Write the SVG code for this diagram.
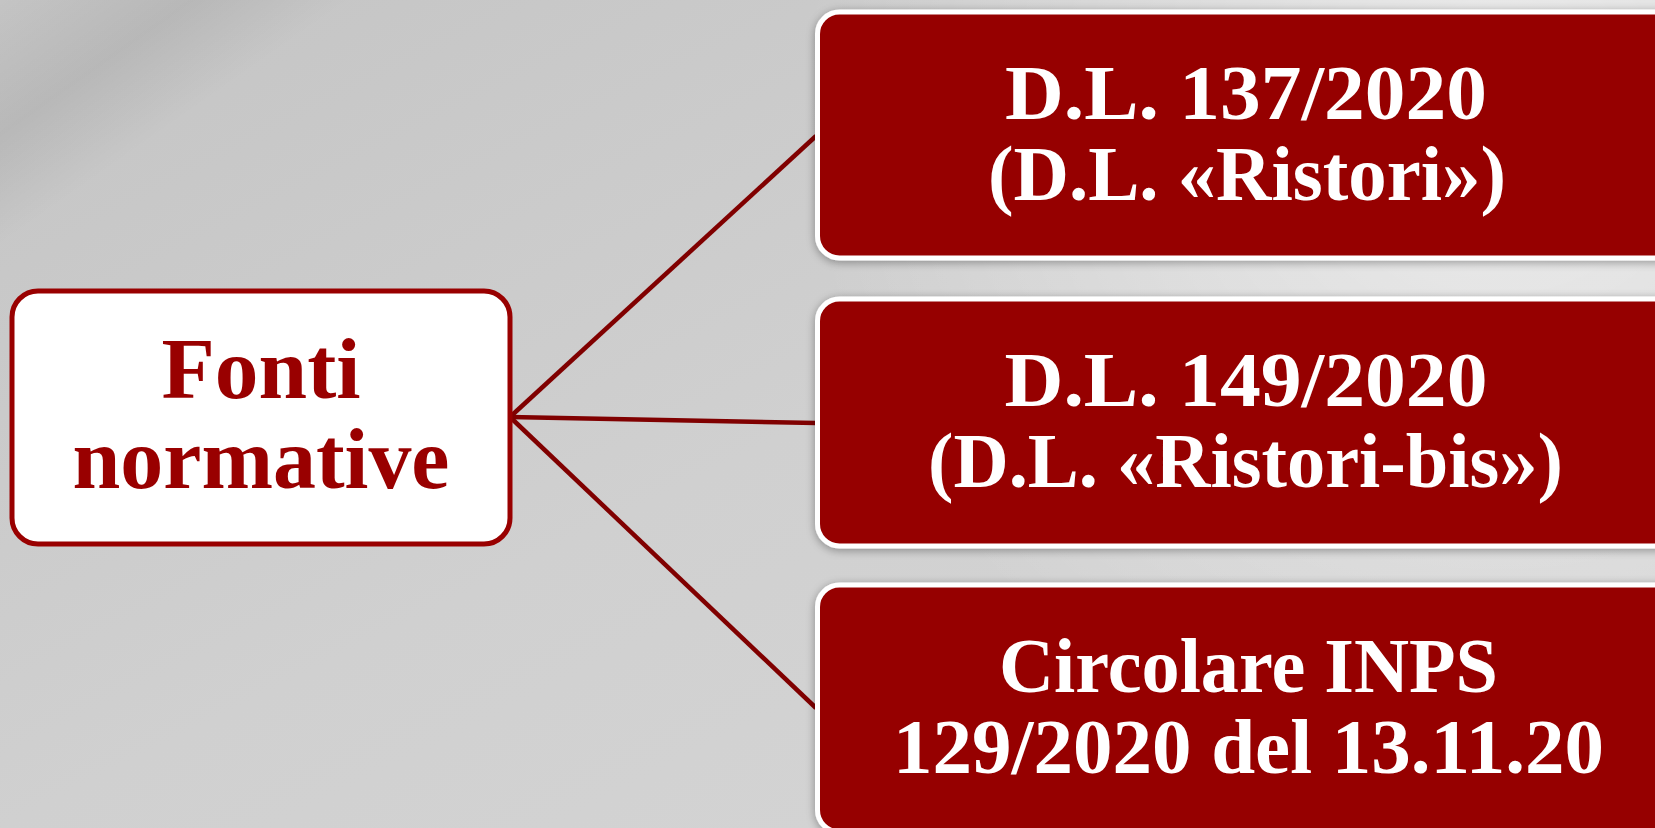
<svg xmlns="http://www.w3.org/2000/svg" width="1655" height="828" viewBox="0 0 1655 828">
  <defs>
    <linearGradient id="bg" x1="0" y1="0" x2="1" y2="1">
      <stop offset="0" stop-color="#c4c4c4"/>
      <stop offset="0.5" stop-color="#d0d0d0"/>
      <stop offset="1" stop-color="#d6d6d6"/>
    </linearGradient>
    <radialGradient id="glowTR" cx="1500" cy="100" r="700" gradientUnits="userSpaceOnUse">
      <stop offset="0" stop-color="#ffffff" stop-opacity="0.6"/>
      <stop offset="1" stop-color="#ffffff" stop-opacity="0"/>
    </radialGradient>
    <linearGradient id="band" x1="0" y1="0" x2="1" y2="1">
      <stop offset="0" stop-color="#000" stop-opacity="0"/>
      <stop offset="0.12" stop-color="#000" stop-opacity="0.07"/>
      <stop offset="0.22" stop-color="#000" stop-opacity="0"/>
      <stop offset="1" stop-color="#000" stop-opacity="0"/>
    </linearGradient>
    <filter id="shadow" x="-5%" y="-10%" width="115%" height="130%">
      <feGaussianBlur in="SourceAlpha" stdDeviation="5"/>
      <feOffset dx="0" dy="2" result="b"/>
      <feComponentTransfer><feFuncA type="linear" slope="0.35"/></feComponentTransfer>
      <feMerge><feMergeNode/><feMergeNode in="SourceGraphic"/></feMerge>
    </filter>
    <style>
      .root { fill: #ffffff; stroke: #990000; stroke-width: 5; }
      .rootText { font-family: "Liberation Serif", "Times New Roman", serif; font-weight: bold; font-size: 86px; fill: #990000; text-anchor: middle; }
      .leaf { fill: #960000; stroke: #ffffff; stroke-width: 5; }
      .leafText { font-family: "Liberation Serif", "Times New Roman", serif; font-weight: bold; font-size: 78px; fill: #ffffff; text-anchor: middle; }
      .conn { stroke: #800000; stroke-width: 4.5; fill: none; }
    </style>
  </defs>

  <rect x="0" y="0" width="1655" height="828" fill="url(#bg)"/>
  <rect x="0" y="0" width="800" height="560" fill="url(#band)"/>
  <rect x="0" y="0" width="1655" height="828" fill="url(#glowTR)"/>

  <g id="connectors">
    <line class="conn" x1="510" y1="417" x2="816" y2="136"/>
    <line class="conn" x1="510" y1="417" x2="816" y2="423"/>
    <line class="conn" x1="510" y1="417" x2="816" y2="708"/>
  </g>

  <g id="node-fonti">
    <rect class="root" x="12" y="291" width="498" height="253" rx="26"/>
    <text class="rootText" x="261" y="398" textLength="199" lengthAdjust="spacingAndGlyphs">Fonti</text>
    <text class="rootText" x="261" y="488" textLength="377" lengthAdjust="spacingAndGlyphs">normative</text>
  </g>

  <g id="node-dl137" filter="url(#shadow)">
    <rect class="leaf" x="817.5" y="12" width="880" height="246" rx="22"/>
    <text class="leafText" x="1246" y="119" textLength="482" lengthAdjust="spacingAndGlyphs">D.L. 137/2020</text>
    <text class="leafText" x="1247" y="200" textLength="518" lengthAdjust="spacingAndGlyphs">(D.L. «Ristori»)</text>
  </g>

  <g id="node-dl149" filter="url(#shadow)">
    <rect class="leaf" x="817.5" y="299" width="880" height="247" rx="22"/>
    <text class="leafText" x="1246" y="406" textLength="483" lengthAdjust="spacingAndGlyphs">D.L. 149/2020</text>
    <text class="leafText" x="1245.5" y="487" textLength="635" lengthAdjust="spacingAndGlyphs">(D.L. «Ristori-bis»)</text>
  </g>

  <g id="node-inps" filter="url(#shadow)">
    <rect class="leaf" x="817.5" y="585" width="880" height="247" rx="22"/>
    <text class="leafText" x="1248.5" y="692" textLength="499" lengthAdjust="spacingAndGlyphs">Circolare INPS</text>
    <text class="leafText" x="1248.5" y="773" textLength="711" lengthAdjust="spacingAndGlyphs">129/2020 del 13.11.20</text>
  </g>
</svg>
